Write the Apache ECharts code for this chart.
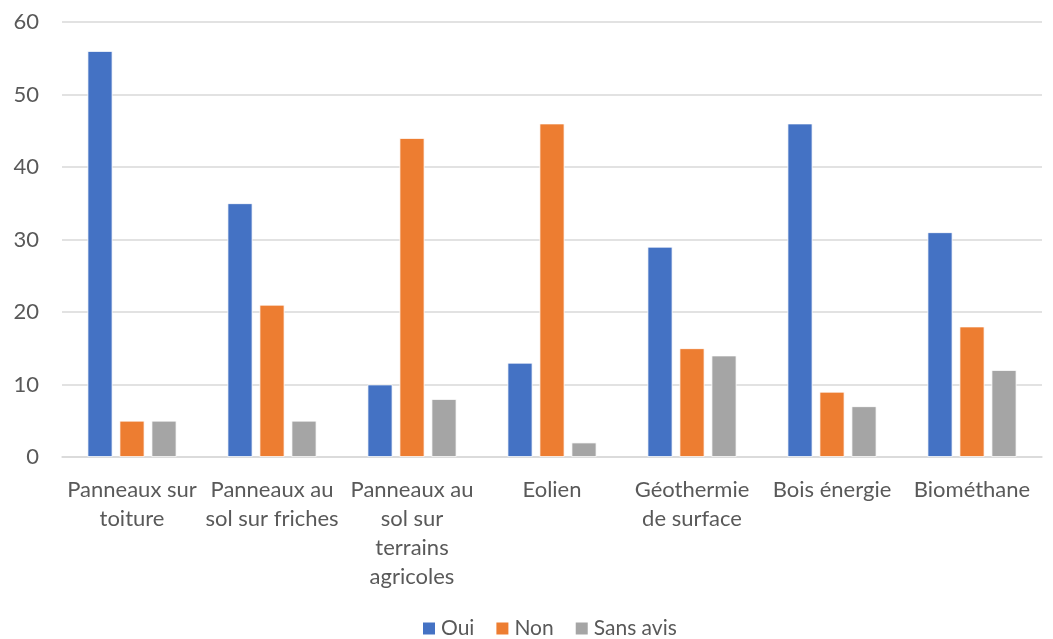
<!DOCTYPE html>
<html><head><meta charset="utf-8">
<script src="https://cdn.jsdelivr.net/npm/echarts@6/dist/echarts.min.js"></script>
<style>html,body{margin:0;padding:0;background:#fff}#c{width:1053px;height:639px}</style>
</head><body><div id="c"></div>
<script>
const categories = ["Panneaux sur\ntoiture", "Panneaux au\nsol sur friches", "Panneaux au\nsol sur\nterrains\nagricoles", "Eolien", "Géothermie\nde surface", "Bois énergie", "Biométhane"];
const oui = [56, 35, 10, 13, 29, 46, 31];
const non = [5, 21, 44, 46, 15, 9, 18];
const sansAvis = [5, 5, 8, 2, 14, 7, 12];
const yTicks = [0, 10, 20, 30, 40, 50, 60];

const font = "Lato";
const chart = echarts.init(document.getElementById('c'));
function bar(name, data, color) {
  return { name, type: 'bar', data, barWidth: 25, barGap: '28%',
    itemStyle: { color, borderColor: '#ffffff', borderWidth: 0.8 } };
}
chart.setOption({
  animation: false,
  textStyle: { fontFamily: font },
  grid: { left: 62, right: 11, top: 22, bottom: 182 },
  legend: { top: 613, left: 416, itemWidth: 14, itemHeight: 14, itemGap: 20, itemTextGap: 6, icon: 'rect',
    textStyle: { color: '#595959', fontSize: 21, fontFamily: font } },
  xAxis: { type: 'category', data: categories,
    axisLine: { lineStyle: { color: '#d9d9d9', width: 1.5 } }, axisTick: { show: false },
    axisLabel: { color: '#595959', fontSize: 22, lineHeight: 29, margin: 18, interval: 0, fontFamily: font } },
  yAxis: { type: 'value', min: yTicks[0], max: yTicks[yTicks.length - 1], interval: 10,
    axisLine: { show: false }, axisTick: { show: false },
    splitLine: { lineStyle: { color: '#d9d9d9', width: 1.5 } },
    axisLabel: { color: '#595959', fontSize: 22, margin: 23, fontFamily: font } },
  series: [bar('Oui', oui, '#4472c4'), bar('Non', non, '#ed7d31'), bar('Sans avis', sansAvis, '#a5a5a5')]
});
</script></body></html>
